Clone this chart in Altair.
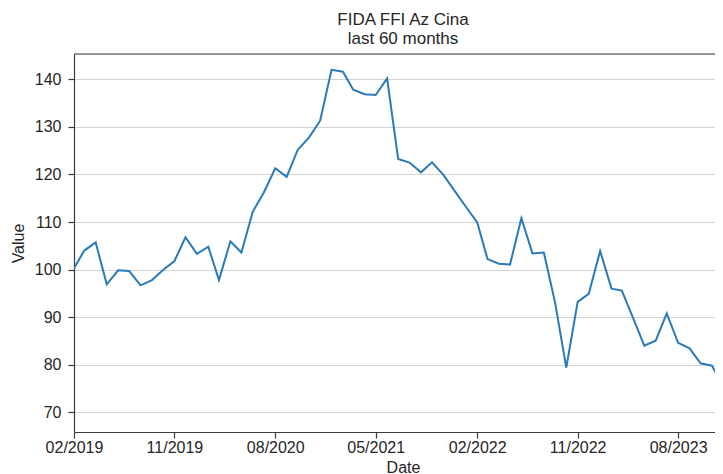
import altair as alt
import pandas as pd

months = [
    "2019-02", "2019-03", "2019-04", "2019-05", "2019-06", "2019-07", "2019-08", "2019-09", "2019-10", "2019-11", "2019-12",
    "2020-01", "2020-02", "2020-03", "2020-04", "2020-05", "2020-06", "2020-07", "2020-08", "2020-09", "2020-10", "2020-11", "2020-12",
    "2021-01", "2021-02", "2021-03", "2021-04", "2021-05", "2021-06", "2021-07", "2021-08", "2021-09", "2021-10", "2021-11", "2021-12",
    "2022-01", "2022-02", "2022-03", "2022-04", "2022-05", "2022-06", "2022-07", "2022-08", "2022-09", "2022-10", "2022-11", "2022-12",
    "2023-01", "2023-02", "2023-03", "2023-04", "2023-05", "2023-06", "2023-07", "2023-08", "2023-09", "2023-10", "2023-11", "2023-12",
    "2024-01",
]
values = [
    100.3, 104.0, 105.7, 96.9, 99.85, 99.7, 96.7, 97.8, 99.9, 101.8, 106.8,
    103.3, 104.8, 97.8, 105.95, 103.6, 112.2, 116.2, 121.3, 119.5, 125.15, 127.8, 131.3,
    142.0, 141.6, 137.8, 136.85, 136.7, 140.2, 123.25, 122.5, 120.45, 122.55, 119.9, 116.6,
    113.2, 109.9, 102.2, 101.25, 101.05, 110.8, 103.4, 103.6, 92.9, 79.4, 93.2, 94.9,
    103.9, 96.0, 95.6, 89.75, 84.0, 85.05, 90.8, 84.6, 83.45, 80.3, 79.8, 75.6,
    69.6,
]
tick_months = [(2019, 2), (2019, 11), (2020, 8), (2021, 5), (2022, 2), (2022, 11), (2023, 8)]
y_ticks = [70, 80, 90, 100, 110, 120, 130, 140]

df = pd.DataFrame({"Date": [m + "-01T00:00:00Z" for m in months], "Value": values})

FONT = "Liberation Sans"
TXT = "#262626"
SPINE = "#3a3a3a"

x_axis = alt.Axis(
    values=[alt.DateTime(year=y, month=m, date=1, utc=True) for y, m in tick_months],
    labelExpr="utcFormat(datum.value, '%m/%Y')", grid=False,
    labelFont=FONT, labelFontSize=16, labelColor=TXT,
    labelBaseline="alphabetic", labelPadding=14.5, labelAngle=0,
    tickSize=6, tickColor=SPINE, tickWidth=1.2,
    domain=True, domainColor=SPINE, domainWidth=1.2,
    labelFlush=False, labelOverlap=False,
    title="Date", titleFont=FONT, titleFontSize=16, titleFontWeight="normal", titleColor=TXT,
    titleX=329, titleY=40, titleBaseline="alphabetic", titleAlign="center",
)
y_axis = alt.Axis(
    values=y_ticks, grid=True, gridColor="#d4d4d4", gridWidth=1,
    labelFont=FONT, labelFontSize=16, labelColor=TXT, labelPadding=7,
    tickSize=6, tickColor=SPINE, tickWidth=1.2,
    domain=True, domainColor=SPINE, domainWidth=1.2,
    title="Value", titleFont=FONT, titleFontSize=16, titleFontWeight="normal", titleColor=TXT,
    titleX=-51, titleY=189, titleBaseline="alphabetic", titleAlign="center", titleAngle=-90,
)

line = alt.Chart(df).mark_line(color="#2a7ab8", strokeWidth=2, clip=True).encode(
    x=alt.X("Date:T", axis=x_axis,
            scale=alt.Scale(type="utc",
                            domain=[alt.DateTime(year=2019, month=2, date=1, utc=True),
                                    alt.DateTime(year=2023, month=11, date=9, hours=5, utc=True)])),
    y=alt.Y("Value:Q", axis=y_axis, scale=alt.Scale(domain=[65.86, 145.32], nice=False, zero=False)),
)

top_spine = alt.Chart(pd.DataFrame({"s": [0]})).mark_rule(color=SPINE, strokeWidth=1.2).encode(
    x=alt.value(0), x2=alt.value(641), y=alt.value(0)
)

chart = alt.layer(line, top_spine).properties(
    width=641, height=378,
    autosize=alt.AutoSizeParams(type="none"),
    padding={"left": 66, "top": 46, "right": 0, "bottom": 42},
    title=alt.Title(["FIDA FFI Az Cina", "last 60 months"], font=FONT, fontSize=17,
                    fontWeight="normal", color=TXT, anchor="middle", frame="group",
                    dx=8.5, offset=5, lineHeight=19),
).configure_view(stroke=None).configure(background="white")

chart.save("out.html", embed_options={"renderer": "svg", "actions": False})
